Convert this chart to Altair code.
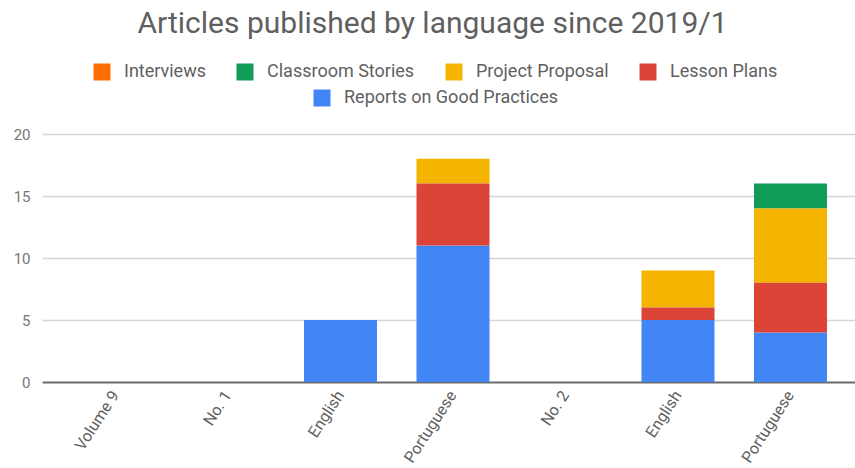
import altair as alt
import pandas as pd

categories = ["Volume 9", "No. 1", "English", "Portuguese", "No. 2", "English", "Portuguese"]
series = ["Interviews", "Classroom Stories", "Project Proposal", "Lesson Plans", "Reports on Good Practices"]
colors = ["#FF6D01", "#0F9D58", "#F4B400", "#DB4437", "#4285F4"]

interviews = [0, 0, 0, 0, 0, 0, 0]
classroom_stories = [0, 0, 0, 0, 0, 0, 2]
project_proposal = [0, 0, 0, 2, 0, 3, 6]
lesson_plans = [0, 0, 0, 5, 0, 1, 4]
reports = [0, 0, 5, 11, 0, 5, 4]

values_by_series = [interviews, classroom_stories, project_proposal, lesson_plans, reports]
# stacking order: Reports at bottom, then Lesson Plans, Project Proposal, Classroom Stories, Interviews
stack_order = {s: len(series) - 1 - i for i, s in enumerate(series)}

rows = []
for s, vals in zip(series, values_by_series):
    for i, v in enumerate(vals):
        rows.append({"pos": i, "series": s, "value": v, "order": stack_order[s]})
df = pd.DataFrame(rows)

label_expr = "[" + ",".join("'" + c + "'" for c in categories) + "][datum.value]"

FONT = "Roboto"
W, H = 813, 248

x_enc = alt.X(
    "pos:O",
    scale=alt.Scale(paddingInner=0.351, paddingOuter=0.329, range=[0, 822]),
    axis=alt.Axis(
        title=None, labelExpr=label_expr, labelAngle=303, labelAlign="right",
        labelBaseline="middle", labelFontSize=16, labelColor="#5f5f5f", labelFont=FONT,
        ticks=False, labelPadding=10, domain=False, grid=False,
    ),
)
y_enc = alt.Y(
    "y0:Q",
    scale=alt.Scale(domain=[0, 20]),
    axis=alt.Axis(
        title=None, values=[0, 5, 10, 15, 20], labelFontSize=15, labelColor="#757575",
        labelFont=FONT, ticks=False, domain=False,
        gridColor={"condition": {"test": "datum.value === 0", "value": "#6b6b6b"}, "value": "#d6d6d6"},
        gridWidth={"condition": {"test": "datum.value === 0", "value": 2}, "value": 1.3},
        labelPadding=12,
    ),
)

base = alt.Chart(df).transform_stack(
    stack="value", groupby=["pos"], as_=["y0", "y1"], sort=[alt.SortField("order")]
)

legend_common = dict(
    orient="none", direction="horizontal", symbolType="square", symbolSize=289,
    symbolStrokeWidth=0, labelFontSize=18, labelFont=FONT, labelColor="#5f5f5f",
    columnPadding=30, labelOffset=13, title=None, labelLimit=400,
)

others = base.transform_filter(alt.datum.series != series[-1]).mark_bar().encode(
    x=x_enc,
    y=y_enc,
    y2="y1:Q",
    color=alt.Color(
        "series:N",
        scale=alt.Scale(domain=series[:-1], range=colors[:-1]),
        legend=alt.Legend(legendX=51, legendY=-71, **legend_common),
    ),
)

blue = base.transform_filter(alt.datum.series == series[-1]).mark_bar().encode(
    x=x_enc,
    y=y_enc,
    y2="y1:Q",
    fill=alt.Fill(
        "series:N",
        scale=alt.Scale(domain=series[-1:], range=colors[-1:]),
        legend=alt.Legend(legendX=271, legendY=-45, **legend_common),
    ),
)

chart = alt.layer(blue, others).resolve_scale(color="independent", fill="independent").properties(
    width=W, height=H,
    autosize=alt.AutoSizeParams(type="none"),
    padding={"left": 42, "top": 134, "right": 0, "bottom": 86},
    title=alt.TitleParams(
        "Articles published by language since 2019/1", fontSize=30, font=FONT,
        fontWeight="normal", color="#5f5f5f", anchor="middle", frame="group", dx=-16,
        offset=0, baseline="alphabetic",
    ),
).configure_view(stroke=None)

chart.save("out.html", embed_options={"renderer": "svg", "actions": False})
